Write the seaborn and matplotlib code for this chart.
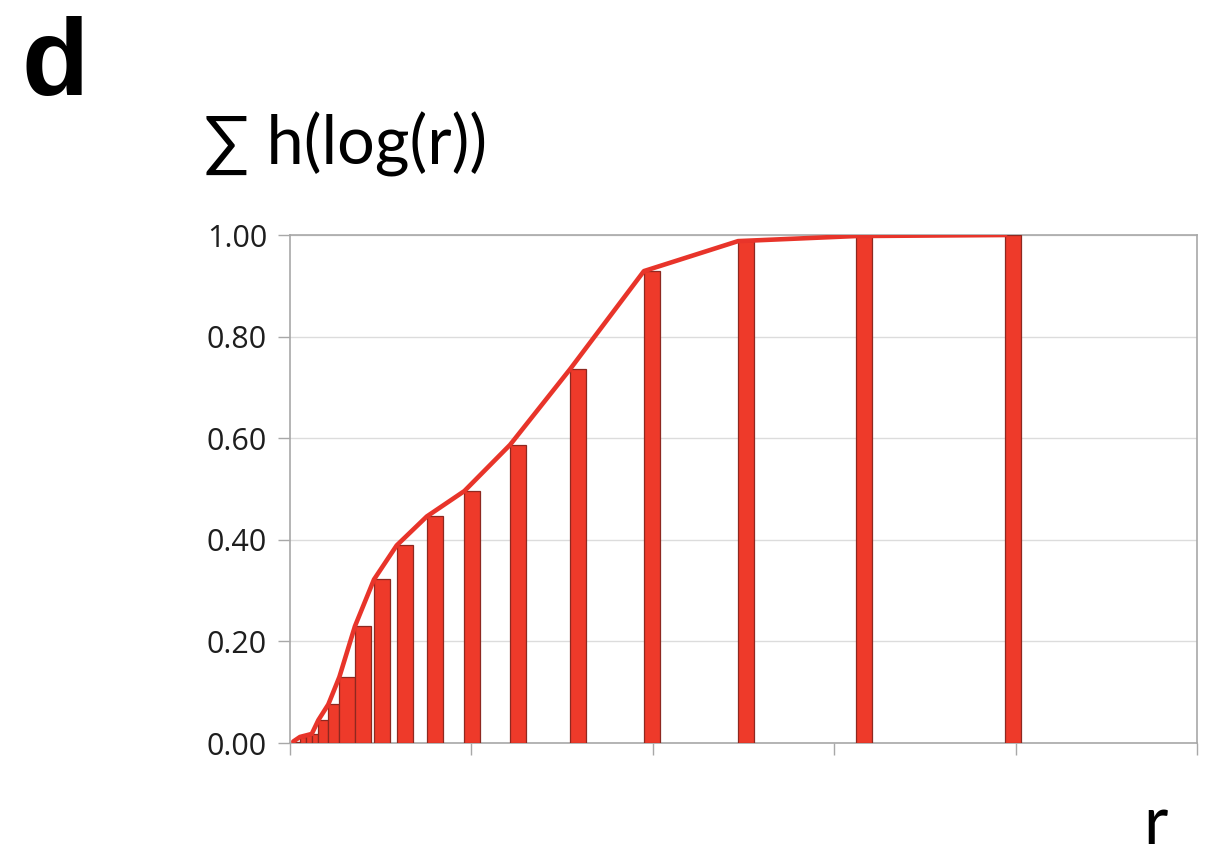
import numpy as np
import pandas as pd
import matplotlib
matplotlib.use("Agg")
import matplotlib.pyplot as plt
import seaborn as sns

# Cumulative histogram of log(r): bin positions and cumulative fractions
r_pos = [0.018, 0.055, 0.088, 0.120, 0.156, 0.211, 0.272, 0.358, 0.463, 0.588,
         0.754, 0.961, 1.213, 1.544, 1.951, 2.470, 3.120, 3.942]
cum_h = [0.003, 0.012, 0.015, 0.018, 0.045, 0.076, 0.130, 0.230, 0.322, 0.389,
         0.446, 0.496, 0.587, 0.736, 0.929, 0.988, 0.998, 1.000]
y_ticks = [0.0, 0.2, 0.4, 0.6, 0.8, 1.0]
y_labels = ["0.00", "0.20", "0.40", "0.60", "0.80", "1.00"]
x_ticks = [0, 1, 2, 3, 4, 5]

df = pd.DataFrame({"r": r_pos, "h": cum_h})

sns.set_theme(style="white")
plt.rcParams["font.family"] = ["Open Sans", "DejaVu Sans"]

fig = plt.figure(figsize=(12.14, 8.59), dpi=100)
ax = fig.add_axes([0.2389, 0.135, 0.7471, 0.5914])

bar_color = "#EE3A2A"
line_color = "#E8342A"
grey = "#A8A8A8"

# bar widths: capped, and never wider than the gap to the next bin
max_w = 0.088
xs = np.array(r_pos)
widths = np.minimum(np.append(np.diff(xs), max_w), max_w)

ax.bar(df["r"], df["h"], width=widths, align="edge", color=bar_color,
       edgecolor="#8E2820", linewidth=0.9, zorder=3)
sns.lineplot(data=df, x="r", y="h", ax=ax, color=line_color, linewidth=3.3,
             zorder=4, legend=False)

ax.set_xlim(0, 5)
ax.set_ylim(0, 1.0)
ax.set_yticks(y_ticks)
ax.set_yticklabels(y_labels)
ax.set_xticks(x_ticks)
ax.set_xticklabels([])
ax.set_xlabel("")
ax.set_ylabel("")

ax.yaxis.grid(True, color="#DCDCDC", linewidth=1.0, zorder=0)
ax.xaxis.grid(False)
ax.set_axisbelow(True)

for side in ["left", "bottom", "right", "top"]:
    ax.spines[side].set_visible(True)
    ax.spines[side].set_color(grey)
    ax.spines[side].set_linewidth(1.2)

ax.tick_params(axis="y", which="major", direction="out", length=8.5, width=1.0,
               color=grey, labelsize=22, labelcolor="#1E1E1E", pad=8, left=True)
ax.tick_params(axis="x", which="major", direction="out", length=8.5, width=1.0,
               color=grey, bottom=True)

fig.text(0.018, 0.889, "d", fontsize=79, fontweight="bold",
         family=["Liberation Sans", "DejaVu Sans"], color="black", va="baseline")
fig.text(0.168, 0.808, "\u2211 h(log(r))", fontsize=48,
         family=["Lato", "DejaVu Sans"], color="black", va="baseline")
fig.text(0.942, 0.004, "r", fontsize=48,
         family=["Lato", "DejaVu Sans"], color="black", va="bottom")

fig.savefig("out.png", dpi=100)
